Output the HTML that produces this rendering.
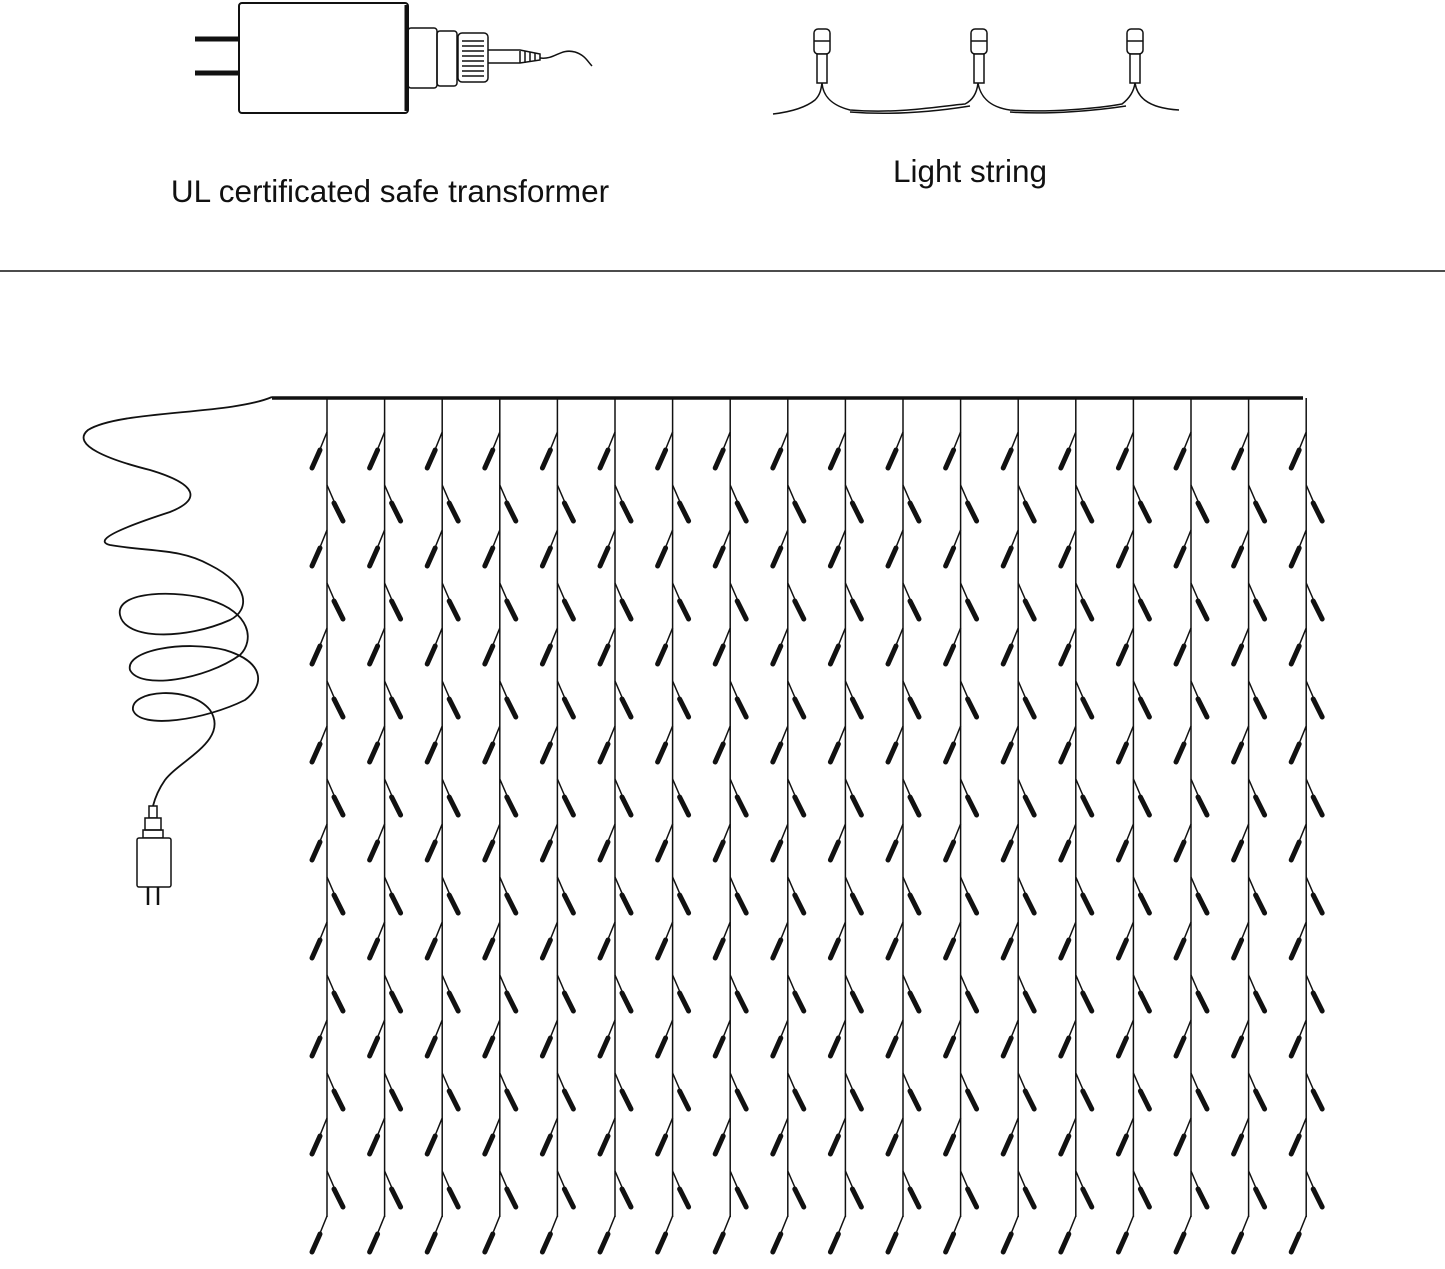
<!DOCTYPE html>
<html><head><meta charset="utf-8"><style>
html,body{margin:0;padding:0;background:#fff;}
svg{display:block;}
text{font-family:"Liberation Sans",Arial,sans-serif;fill:#111;}
</style></head><body>
<svg id="s" width="1445" height="1269" viewBox="0 0 1445 1269" xmlns="http://www.w3.org/2000/svg">
<g fill="none" stroke="#111" stroke-width="1.5">
<!-- transformer -->
<rect x="239" y="3" width="169" height="110" rx="3" fill="#fff" stroke-width="2"/>
<line x1="406" y1="5" x2="406" y2="111" stroke-width="3"/>
<line x1="195" y1="39" x2="239" y2="39" stroke-width="5"/>
<line x1="195" y1="73" x2="239" y2="73" stroke-width="5"/>
<rect x="408" y="28" width="29" height="60" rx="3"/>
<rect x="437" y="31" width="20" height="55" rx="3"/>
<rect x="458" y="33" width="30" height="49" rx="4"/>
<g stroke-width="1.5"><line x1="462" y1="41" x2="484" y2="41"/><line x1="462" y1="46" x2="484" y2="46"/><line x1="462" y1="51" x2="484" y2="51"/><line x1="462" y1="56" x2="484" y2="56"/><line x1="462" y1="61" x2="484" y2="61"/><line x1="462" y1="66" x2="484" y2="66"/><line x1="462" y1="71" x2="484" y2="71"/><line x1="462" y1="76" x2="484" y2="76"/></g>
<path d="M488 50 H520 L540 54 V60 L520 63 H488"/>
<path d="M520 51 V63 M525 51 V63 M530 52 V62 M535 53 V61"/>
<path d="M540 58 C555 60 560 48 575 52 C585 55 588 62 592 66"/>
<!-- light string -->
<path d="M773 114 C790 112 805 108 815 100 C820 95 821 90 822 83 M822 83 C823 95 830 105 850 110 C900 114 940 106 965 104 C973 100 977 92 978 83 M978 83 C980 95 988 107 1010 110 C1050 113 1100 108 1122 104 C1130 98 1134 90 1135 83 M1135 83 C1137 95 1145 108 1179 110"/>
<path d="M850 112 C900 116 945 110 970 106 M1010 112 C1050 115 1100 110 1126 106"/>
<g fill="#fff">
<rect x="814" y="29" width="16" height="25" rx="4"/><rect x="817" y="54" width="10" height="29"/><line x1="814" y1="41" x2="830" y2="41"/>
<rect x="971" y="29" width="16" height="25" rx="4"/><rect x="974" y="54" width="10" height="29"/><line x1="971" y1="41" x2="987" y2="41"/>
<rect x="1127" y="29" width="16" height="25" rx="4"/><rect x="1130" y="54" width="10" height="29"/><line x1="1127" y1="41" x2="1143" y2="41"/>
</g>
<!-- separator -->
<line x1="0" y1="271" x2="1445" y2="271" stroke-width="1.6"/>
<!-- top bar -->
<line x1="272" y1="398" x2="1303" y2="398" stroke-width="3.5"/>
<!-- cord -->
<path d="M272 397 C230 415 120 410 88 430 C70 445 110 460 150 470 C200 485 200 500 170 512 C130 525 90 540 110 545 C150 552 180 548 210 565 C250 585 250 610 230 620 C185 640 125 640 120 615 C115 590 180 590 210 600 C250 612 255 640 240 655 C205 680 140 690 130 670 C125 650 185 640 225 650 C265 662 265 685 245 700 C205 720 140 730 133 710 C130 690 190 685 210 710 C230 740 180 760 165 780 C158 790 155 798 153 806" stroke-width="1.8"/>
<!-- plug -->
<rect x="149" y="806" width="8" height="12"/>
<rect x="145" y="818" width="16" height="12" fill="#fff"/>
<rect x="143" y="830" width="20" height="8"/>
<rect x="137" y="838" width="34" height="49" rx="2" fill="#fff"/>
<line x1="148" y1="887" x2="148" y2="905" stroke-width="2.5"/>
<line x1="158" y1="887" x2="158" y2="905" stroke-width="2.5"/>
<g id="strands"></g>
</g>
<text x="390" y="202" font-size="31.5" text-anchor="middle">UL certificated safe transformer</text>
<text x="970" y="182" font-size="31.5" text-anchor="middle">Light string</text>
</svg>
<script>
var g=document.getElementById('strands'),h='';
for(var i=0;i<18;i++){
 var x=327+i*57.6;
 h+='<line x1="'+x+'" y1="398" x2="'+x+'" y2="1217"/>';
 for(var k=0;k<9;k++){var y=432+k*98;
  h+='<line x1="'+x+'" y1="'+y+'" x2="'+(x-15)+'" y2="'+(y+37)+'"/>';
  h+='<line x1="'+(x-7)+'" y1="'+(y+18)+'" x2="'+(x-15)+'" y2="'+(y+36)+'" stroke-width="5" stroke-linecap="round"/>';}
 for(var k=0;k<8;k++){var y=485+k*98;
  h+='<line x1="'+x+'" y1="'+y+'" x2="'+(x+16)+'" y2="'+(y+37)+'"/>';
  h+='<line x1="'+(x+7)+'" y1="'+(y+18)+'" x2="'+(x+16)+'" y2="'+(y+36)+'" stroke-width="5" stroke-linecap="round"/>';}
}
g.innerHTML=h;
</script>
</body></html>
